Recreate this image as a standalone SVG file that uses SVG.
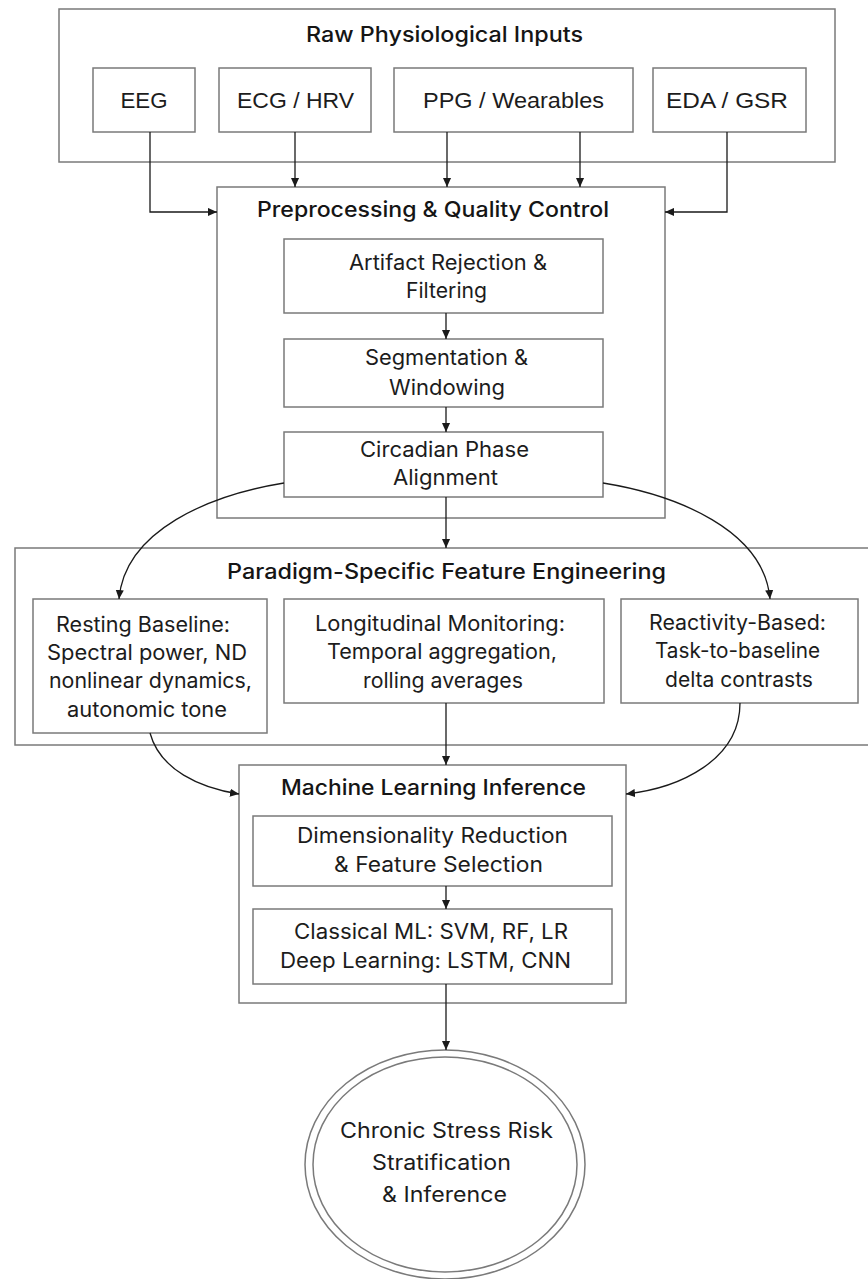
<svg xmlns="http://www.w3.org/2000/svg" width="868" height="1279" viewBox="0 0 868 1279">
<style>
.box{fill:none;stroke:#7a7a7a;stroke-width:1.5}
.t{font-family:Inter,"Liberation Sans",sans-serif;font-size:21px;fill:#1c1c1c;text-anchor:middle}
.h{font-family:Inter,"Liberation Sans",sans-serif;font-size:21px;font-weight:500;fill:#151515;text-anchor:middle}
.s{font-family:"Liberation Sans",Arial,sans-serif;font-size:22px;fill:#1c1c1c;text-anchor:middle}
.c{fill:none;stroke:#1a1a1a;stroke-width:1.3}
</style>
<defs>
<marker id="ah" viewBox="0 0 10 10" refX="10" refY="5" markerWidth="9" markerHeight="9" markerUnits="userSpaceOnUse" orient="auto">
<path d="M0,0.5 L10,5 L0,9.5 z" fill="#1a1a1a"/>
</marker>
</defs>
<rect width="868" height="1279" fill="#ffffff"/>

<g id="raw-inputs">
<rect class="box" x="59" y="9" width="776" height="153"/>
<text class="h" x="444.5" y="42" textLength="277" lengthAdjust="spacingAndGlyphs">Raw Physiological Inputs</text>
</g>
<g id="eeg">
<rect class="box" x="93" y="68" width="102" height="64"/>
<text class="s" x="144" y="108" textLength="47" lengthAdjust="spacingAndGlyphs">EEG</text>
</g>
<g id="ecg">
<rect class="box" x="219" y="68" width="152" height="64"/>
<text class="s" x="295.5" y="108" textLength="117" lengthAdjust="spacingAndGlyphs">ECG / HRV</text>
</g>
<g id="ppg">
<rect class="box" x="394" y="68" width="239" height="64"/>
<text class="s" x="513.5" y="108" textLength="181" lengthAdjust="spacingAndGlyphs">PPG / Wearables</text>
</g>
<g id="eda">
<rect class="box" x="653" y="68" width="153" height="64"/>
<text class="s" x="727" y="108" textLength="122" lengthAdjust="spacingAndGlyphs">EDA / GSR</text>
</g>

<g id="preprocessing">
<rect class="box" x="217" y="187" width="448" height="331"/>
<text class="h" x="433" y="217" textLength="352" lengthAdjust="spacingAndGlyphs">Preprocessing &amp; Quality Control</text>
</g>
<g id="artifact">
<rect class="box" x="284" y="239" width="319" height="74"/>
<text class="t" x="448" y="270" textLength="198" lengthAdjust="spacingAndGlyphs">Artifact Rejection &amp;</text>
<text class="t" x="446.5" y="298" textLength="81" lengthAdjust="spacingAndGlyphs">Filtering</text>
</g>
<g id="segmentation">
<rect class="box" x="284" y="339" width="319" height="68"/>
<text class="t" x="446.5" y="365" textLength="163" lengthAdjust="spacingAndGlyphs">Segmentation &amp;</text>
<text class="t" x="447" y="395" textLength="116" lengthAdjust="spacingAndGlyphs">Windowing</text>
</g>
<g id="circadian">
<rect class="box" x="284" y="432" width="319" height="65"/>
<text class="t" x="444.5" y="457" textLength="169" lengthAdjust="spacingAndGlyphs">Circadian Phase</text>
<text class="t" x="445.5" y="485" textLength="105" lengthAdjust="spacingAndGlyphs">Alignment</text>
</g>

<g id="paradigm">
<rect class="box" x="15" y="548" width="870" height="197"/>
<text class="h" x="446.5" y="579" textLength="439" lengthAdjust="spacingAndGlyphs">Paradigm-Specific Feature Engineering</text>
</g>
<g id="resting">
<rect class="box" x="33" y="599" width="234" height="134"/>
<text class="t" x="143" y="632" textLength="174" lengthAdjust="spacingAndGlyphs">Resting Baseline:</text>
<text class="t" x="147" y="660" textLength="200" lengthAdjust="spacingAndGlyphs">Spectral power, ND</text>
<text class="t" x="150.5" y="688" textLength="203" lengthAdjust="spacingAndGlyphs">nonlinear dynamics,</text>
<text class="t" x="147" y="717" textLength="160" lengthAdjust="spacingAndGlyphs">autonomic tone</text>
</g>
<g id="longitudinal">
<rect class="box" x="284" y="599" width="320" height="104"/>
<text class="t" x="440" y="631" textLength="250" lengthAdjust="spacingAndGlyphs">Longitudinal Monitoring:</text>
<text class="t" x="442" y="659" textLength="230" lengthAdjust="spacingAndGlyphs">Temporal aggregation,</text>
<text class="t" x="443" y="688" textLength="160" lengthAdjust="spacingAndGlyphs">rolling averages</text>
</g>
<g id="reactivity">
<rect class="box" x="621" y="599" width="237" height="104"/>
<text class="t" x="737.5" y="630" textLength="177" lengthAdjust="spacingAndGlyphs">Reactivity-Based:</text>
<text class="t" x="737.5" y="658" textLength="165" lengthAdjust="spacingAndGlyphs">Task-to-baseline</text>
<text class="t" x="739" y="687" textLength="148" lengthAdjust="spacingAndGlyphs">delta contrasts</text>
</g>

<g id="ml">
<rect class="box" x="239" y="765" width="387" height="238"/>
<text class="h" x="433.5" y="795" textLength="305" lengthAdjust="spacingAndGlyphs">Machine Learning Inference</text>
</g>
<g id="dimensionality">
<rect class="box" x="253" y="816" width="359" height="70"/>
<text class="t" x="432.5" y="843" textLength="271" lengthAdjust="spacingAndGlyphs">Dimensionality Reduction</text>
<text class="t" x="438.5" y="872" textLength="209" lengthAdjust="spacingAndGlyphs">&amp; Feature Selection</text>
</g>
<g id="classifiers">
<rect class="box" x="253" y="909" width="359" height="75"/>
<text class="t" x="431" y="939" textLength="274" lengthAdjust="spacingAndGlyphs">Classical ML: SVM, RF, LR</text>
<text class="t" x="425.5" y="968" textLength="291" lengthAdjust="spacingAndGlyphs">Deep Learning: LSTM, CNN</text>
</g>

<g id="outcome">
<ellipse class="box" cx="445" cy="1164.5" rx="140" ry="114.5"/>
<ellipse class="box" cx="445" cy="1164.5" rx="132" ry="107.5"/>
<text class="t" x="446.5" y="1138" textLength="213" lengthAdjust="spacingAndGlyphs">Chronic Stress Risk</text>
<text class="t" x="441.5" y="1170" textLength="139" lengthAdjust="spacingAndGlyphs">Stratification</text>
<text class="t" x="444.5" y="1202" textLength="125" lengthAdjust="spacingAndGlyphs">&amp; Inference</text>
</g>

<g id="connectors" class="c" marker-end="url(#ah)">
<path class="c" d="M150,132 V212 H217" marker-end="url(#ah)"/>
<path class="c" d="M295,132 V187" marker-end="url(#ah)"/>
<path class="c" d="M447,132 V187" marker-end="url(#ah)"/>
<path class="c" d="M580,132 V187" marker-end="url(#ah)"/>
<path class="c" d="M727,132 V212 H665" marker-end="url(#ah)"/>
<path class="c" d="M446,313 V339" marker-end="url(#ah)"/>
<path class="c" d="M446,407 V432" marker-end="url(#ah)"/>
<path class="c" d="M446,497 V548" marker-end="url(#ah)"/>
<path class="c" d="M284,483 C210,495 125,530 119,599" marker-end="url(#ah)"/>
<path class="c" d="M603,483 C677,495 764,530 770,599" marker-end="url(#ah)"/>
<path class="c" d="M446,703 V765" marker-end="url(#ah)"/>
<path class="c" d="M150,733 C160,770 200,788 239,794" marker-end="url(#ah)"/>
<path class="c" d="M740,703 C740,760 680,788 626,794" marker-end="url(#ah)"/>
<path class="c" d="M446,886 V909" marker-end="url(#ah)"/>
<path class="c" d="M446,984 V1050" marker-end="url(#ah)"/>
</g>
</svg>
